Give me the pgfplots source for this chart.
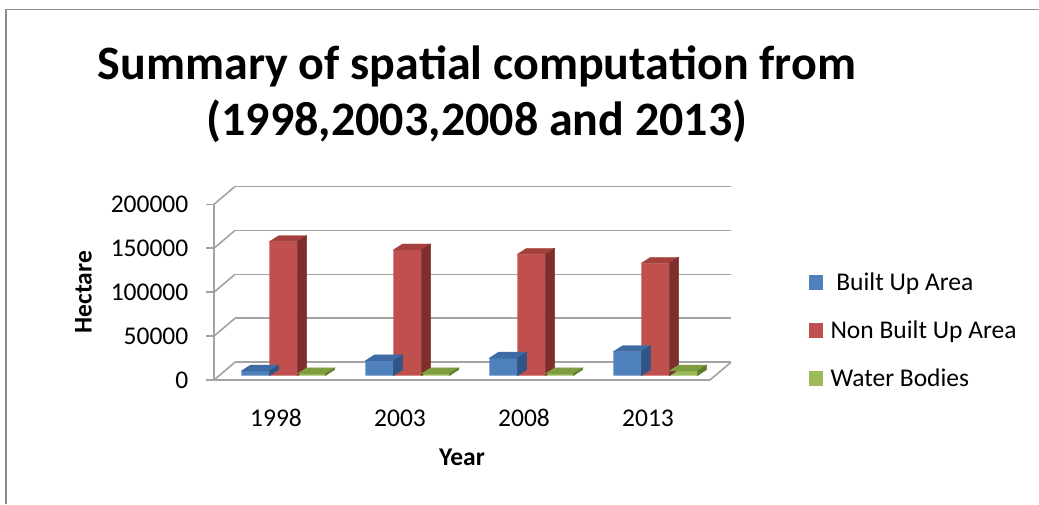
\documentclass[border=0pt]{standalone}
\usepackage{pgfplots}
\pgfplotsset{compat=1.18}
\usepackage{pgfplotstable}
\usepackage{fontspec}
\setmainfont{Carlito}
\definecolor{cBlue}{HTML}{4F81BD}
\definecolor{cBlueT}{HTML}{3E6BA3}
\definecolor{cBlueS}{HTML}{2F5485}
\definecolor{cRed}{HTML}{C0504D}
\definecolor{cRedT}{HTML}{A5403D}
\definecolor{cRedS}{HTML}{7E2F2C}
\definecolor{cGreen}{HTML}{9BBB59}
\definecolor{cGreenT}{HTML}{7F9E41}
\definecolor{cGreenS}{HTML}{5F7B2C}
\definecolor{gridc}{HTML}{A3A3A3}
\definecolor{framec}{HTML}{8C8C8C}

\pgfplotstableread{
x built nonbuilt water
0 5300 152500 2000
1 17000 143100 2000
2 20000 138200 2000
3 27300 128000 5300
}\landdata

\newcommand{\lblfont}{\fontsize{25.5}{30}\selectfont}
\def\DX{9.3}
\def\DY{6}
\def\YS{175.7}
\pgfdeclareplotmark{empty}{}
\pgfplotsset{
  faces/.style n args={3}{forget plot, scatter, only marks, mark=empty,
    point meta=y, point meta min=0, point meta max=200000,
    scatter/@pre marker code/.code={%
      \pgfmathsetmacro\hh{\pgfplotspointmetatransformed/1000*\YS}%
      \fill[#2] ({#1-14pt},0pt) -- ++(28pt,0pt) -- ++(\DX pt,\DY pt) -- ++(-28pt,0pt) -- cycle;
      \fill[#3] ({#1+14pt},0pt) -- ++(\DX pt,\DY pt) -- ++(0pt,-\hh pt) -- ++(-\DX pt,-\DY pt) -- cycle;
    },
    scatter/@post marker code/.code={},
  },
  frontplane/.style={scale only axis, anchor=south west, width=496pt, height=175.7pt,
    xmin=-0.5, xmax=3.5, ymin=0, ymax=200000, clip=false},
}

\begin{document}
\begin{tikzpicture}
\useasboundingbox (0,0) rectangle (1039pt,504pt);
\fill[white] (0,0) rectangle (1039pt,504pt);
\draw[framec, line width=1.2pt] (6pt,0pt) -- (6pt,494.7pt) -- (1039pt,494.7pt);

\node[anchor=base, font=\fontsize{48}{56}\selectfont\bfseries] at (477pt,424pt) {Summary of spatial computation from};
\node[anchor=base, font=\fontsize{48}{56}\selectfont\bfseries] at (477pt,368pt) {(1998,2003,2008 and 2013)};

% back wall gridlines
\begin{axis}[frontplane, at={(235pt,141.8pt)},
  ytick={0,50000,100000,150000,200000}, xtick=\empty, yticklabels={},
  scaled y ticks=false,
  axis line style={draw=none}, major tick length=0pt,
  ymajorgrids, major grid style={draw=gridc, line width=1.6pt}]
\end{axis}

% front plane: axes, labels, side wall and floor
\begin{axis}[frontplane, at={(214pt,124pt)},
  axis x line*=bottom, axis y line*=left,
  axis line style={draw=gridc, line width=1.6pt, -},
  xtick={0,1,2,3}, xticklabels={1998,2003,2008,2013},
  ytick={0,50000,100000,150000,200000}, scaled y ticks=false,
  yticklabel={\pgfmathprintnumber[fixed, precision=0, 1000 sep={}, assume math mode=true]{\tick}},
  tick label style={font=\lblfont},
  tick align=outside, major tick length=7.5pt,
  ytick style={draw=gridc, line width=1.6pt}, xtick style={draw=none},
  yticklabel style={inner sep=0pt, anchor=east, xshift=-18pt},
  xticklabel style={inner sep=0pt, anchor=north, text height=16.2pt, text depth=0pt, yshift=-22.5pt},
  xlabel={Year}, ylabel={Hectare},
  label style={font=\lblfont\bfseries},
  xlabel style={at={(axis description cs:0.5,0)}, anchor=base, yshift=-85pt},
  ylabel style={at={(axis description cs:-0.2466,0.5)}, anchor=base},
  ]
\draw[gridc, line width=1.6pt] (axis cs:-0.5,0) -- ++(21pt,17.8pt);
\draw[gridc, line width=1.6pt] (axis cs:-0.5,50000) -- ++(21pt,17.8pt);
\draw[gridc, line width=1.6pt] (axis cs:-0.5,100000) -- ++(21pt,17.8pt);
\draw[gridc, line width=1.6pt] (axis cs:-0.5,150000) -- ++(21pt,17.8pt);
\draw[gridc, line width=1.6pt] (axis cs:-0.5,200000) -- ++(21pt,17.8pt);
\draw[gridc, line width=1.6pt] (axis cs:3.5,0) -- ++(21pt,17.8pt);
\end{axis}

% bars
\begin{axis}[frontplane, at={(221.3pt,128.3pt)}, hide axis,
  legend style={at={(1.1835,0.2573)}, anchor=west, draw=none, fill=none,
    inner sep=0pt, column sep=8pt, row sep=22.7pt, font=\lblfont,
    cells={anchor=west}, nodes={inner sep=0pt, text height=21pt, text depth=4.6pt}},
  ]
\addplot[ybar, bar width=28pt, bar shift=-28pt, fill=cBlue, draw=none,
  legend image code/.code={\fill[cBlue] (0pt,-7.5pt) rectangle (14pt,7.5pt);}]
  table[x=x, y=built] {\landdata};
\addlegendentry{\hspace{5.8pt}Built Up Area}
\addplot[faces={-28pt}{cBlueT}{cBlueS}] table[x=x, y=built] {\landdata};
\addplot[ybar, bar width=28pt, bar shift=0pt, fill=cRed, draw=none,
  legend image code/.code={\fill[cRed] (0pt,-7.5pt) rectangle (14pt,7.5pt);}]
  table[x=x, y=nonbuilt] {\landdata};
\addlegendentry{Non Built Up Area}
\addplot[faces={0pt}{cRedT}{cRedS}] table[x=x, y=nonbuilt] {\landdata};
\addplot[ybar, bar width=28pt, bar shift=28pt, fill=cGreen, draw=none,
  legend image code/.code={\fill[cGreen] (0pt,-7.5pt) rectangle (14pt,7.5pt);}]
  table[x=x, y=water] {\landdata};
\addlegendentry{Water Bodies}
\addplot[faces={28pt}{cGreenT}{cGreenS}] table[x=x, y=water] {\landdata};
\end{axis}
\end{tikzpicture}
\end{document}
